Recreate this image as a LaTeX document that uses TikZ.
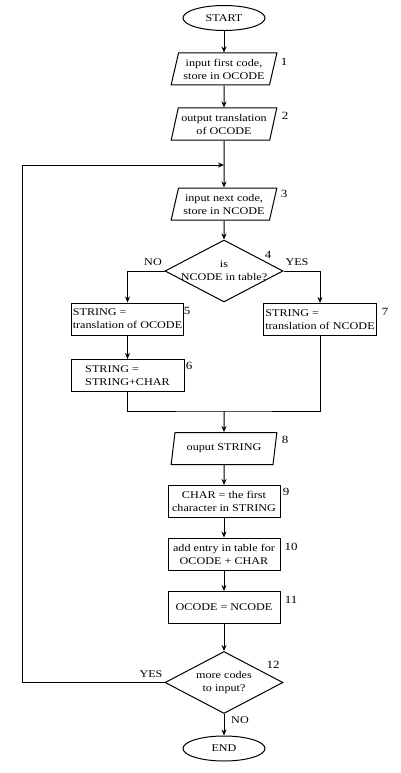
\documentclass[tikz,border=0pt]{standalone}
\usepackage{fontspec}
\setmainfont{Liberation Serif}[FakeStretch=1.18]
\usetikzlibrary{shapes.geometric,arrows.meta}
\begin{document}
\begin{tikzpicture}[x=1pt,y=-1pt,
  every node/.style={font=\fontsize{10.3}{13}\selectfont, inner sep=1pt},
  line/.style={line width=1pt},
  arr/.style={line, -{Stealth[length=6pt,width=5pt]}},
  io/.style={trapezium, trapezium left angle=72, trapezium right angle=108, trapezium stretches=true, draw, line, inner sep=0pt, minimum width=106pt, minimum height=32pt, align=center},
  proc/.style={rectangle, draw, line, minimum height=32pt, inner xsep=1pt, align=center},
  term/.style={ellipse, draw, line, minimum width=82pt, minimum height=25pt, inner sep=0pt},
  dec/.style={diamond, draw, line, minimum width=118pt, minimum height=62pt, inner sep=0pt},
  num/.style={font=\fontsize{11}{13}\selectfont, inner sep=0pt}
]
\useasboundingbox (0,0) rectangle (400,773);

\node[term] (start) at (224,18) {START};
\node[io] (p1) at (224,69) {input first code,\\store in OCODE};
\node[io] (p2) at (224,124) {output translation\\of OCODE};
\coordinate (j1) at (224,165);
\node[io] (p3) at (224,204) {input next code,\\store in NCODE};
\node[dec] (d4) at (224,271) {};
\node[align=center] (t4) at (d4.center) {is\\NCODE in table?};
\node[proc, minimum width=112pt, align=left] (b5) at (127.5,319) {STRING =\\translation of OCODE};
\node[proc, minimum width=113pt, align=left] (b6) at (127.5,375.5) {STRING =\\STRING+CHAR};
\node[proc, minimum width=113pt, align=left] (b7) at (320,319.5) {STRING =\\translation of NCODE};
\coordinate (j2) at (224,411);
\node[io] (p8) at (224,448.5) {ouput STRING};
\node[proc, minimum width=112pt] (b9) at (224,501.5) {CHAR = the first\\character in STRING};
\node[proc, minimum width=112pt] (b10) at (224,554) {add entry in table for\\OCODE + CHAR};
\node[proc, minimum width=112pt] (b11) at (224,607.5) {OCODE = NCODE};
\node[dec] (d12) at (224,682.5) {};
\node[align=center] (t12) at (d12.center) {more codes\\to input?};
\node[term] (end) at (224,748.5) {END};
\coordinate (lp) at (22,682.5);

\node[num] (n1) at (284,62) {1};
\node[num] (n2) at (285,116) {2};
\node[num] (n3) at (284,194) {3};
\node[num] (n4) at (268,255) {4};
\node[num] (n5) at (187,311) {5};
\node[num] (n6) at (189,366) {6};
\node[num] (n7) at (385,312) {7};
\node[num] (n8) at (285,440) {8};
\node[num] (n9) at (286,492) {9};
\node[num] (n10) at (291,547) {10};
\node[num] (n11) at (291,600) {11};
\node[num] (n12) at (273,665) {12};
\node (no4) at (153,262) {NO};
\node (yes4) at (297,262) {YES};
\node (yes12) at (151,674) {YES};
\node (no12) at (240,720) {NO};

\draw[arr] (start) -- (p1);
\draw[arr] (p1) -- (p2);
\draw[arr] (p2) -- (p3);
\draw[arr] (p3) -- (d4);
\draw[arr] (d4.west) -| (b5.north);
\draw[arr] (d4.east) -| (b7.north);
\draw[arr] (b5) -- (b6);
\draw[line] (b6.south) |- (j2) -| (b7.south);
\draw[arr] (j2) -- (p8);
\draw[arr] (p8) -- (b9);
\draw[arr] (b9) -- (b10);
\draw[arr] (b10) -- (b11);
\draw[arr] (b11) -- (d12);
\draw[arr] (d12) -- (end);
\draw[arr] (d12.west) -- (lp) |- (j1);
\end{tikzpicture}
\end{document}
